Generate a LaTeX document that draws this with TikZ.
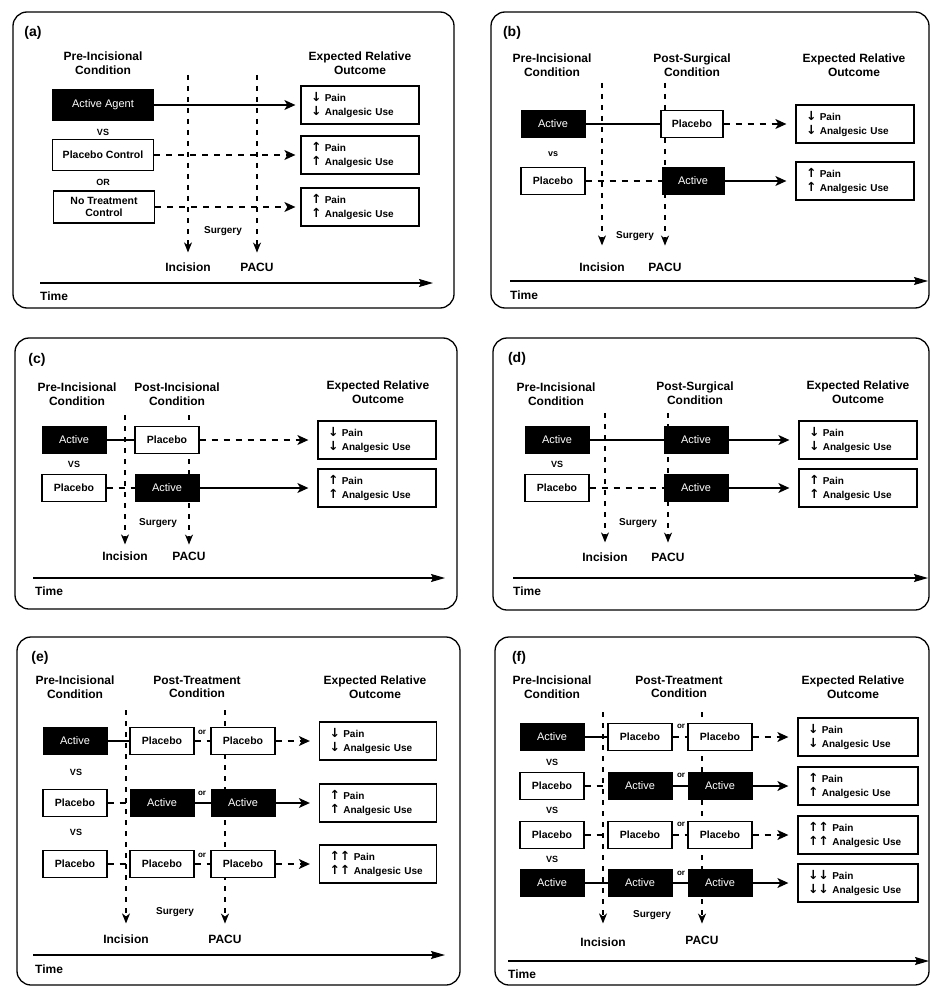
\documentclass[tikz,border=0pt]{standalone}
\usepackage{fontspec}
\setmainfont{Liberation Sans}
\newfontfamily\arrowfont{DejaVu Sans}
\usetikzlibrary{arrows.meta}

\newcommand{\dnarr}{{\arrowfont\bfseries\fontsize{12.5}{12}\selectfont ↓}}
\newcommand{\uparr}{{\arrowfont\bfseries\fontsize{12.5}{12}\selectfont ↑}}

\tikzset{
  panel/.style={line width=1.3pt, rounded corners=14pt},
  head/.style={font=\bfseries\fontsize{12}{13.5}\selectfont, align=center, inner sep=0pt},
  tag/.style={font=\bfseries\fontsize{14}{16}\selectfont, inner sep=0pt},
  axislbl/.style={font=\bfseries\fontsize{12}{14}\selectfont, inner sep=0pt},
  orlbl/.style={font=\bfseries\fontsize{9}{10}\selectfont, inner sep=0pt},
  surglbl/.style={font=\bfseries\fontsize{10}{11}\selectfont, inner sep=0pt},
  act/.style={draw, fill=black, text=white, line width=1pt, font=\fontsize{11}{12}\selectfont,
    minimum width=64pt, minimum height=27pt, inner sep=1pt},
  plac/.style={draw, fill=white, line width=1.3pt, font=\bfseries\fontsize{10.5}{12}\selectfont,
    minimum width=64pt, minimum height=27pt, inner sep=1pt, align=center},
  outc/.style={draw, fill=white, line width=1.3pt, font=\bfseries\fontsize{10}{14.5}\selectfont,
    minimum height=38pt, text width=98pt, inner xsep=10pt, align=left},
  solidc/.style={line width=1.2pt},
  dashc/.style={line width=1.2pt, dash pattern=on 6pt off 6pt},
  outarr/.style={-{Stealth[length=11pt, width=10pt, inset=3pt]}, shorten >=9pt},
  vdash/.style={line width=1.2pt, dash pattern=on 5pt off 6pt,
    -{Stealth[length=10pt, width=8pt, inset=3pt]}, shorten >=10pt},
  timeax/.style={line width=1.3pt, -{Stealth[length=14pt, width=8pt, inset=2pt]}},
}

\begin{document}
\begin{tikzpicture}[x=1pt, y=-1pt]
    \useasboundingbox (0,0) rectangle (931,987);

    %%%%%%%%%% panel (a)
    \draw[panel] (13,12) rectangle (454,308);
    \node[tag] (a-tag) at (33,33) {(a)};
    \node[head] (a-h1) at (103,63) {Pre-Incisional\\Condition};
    \node[head] (a-h3) at (360,63) {Expected Relative\\Outcome};
    % surgery markers
    \node[axislbl] (a-inc) at (188,267) {Incision};
    \node[axislbl] (a-pacu) at (257,267) {PACU};
    \coordinate (a-v1) at (188,75);
    \coordinate (a-v2) at (257,75);
    \draw[vdash] (a-v1) -- (a-inc);
    \draw[vdash] (a-v2) -- (a-pacu);
    \node[surglbl] (a-surg) at (223,231) {Surgery};
    % time axis
    \coordinate (a-t0) at (40,283);
    \coordinate (a-t1) at (433,283);
    \draw[timeax] (a-t0) -- (a-t1);
    \node[axislbl, anchor=west] (a-time) at (40,296) {Time};
    % conditions
    \node[act, minimum width=101pt, minimum height=31pt] (a-pre1) at (103,105) {Active Agent};
    \node[orlbl] (a-vs) at (103,132) {VS};
    \node[plac, minimum width=101pt, minimum height=31pt] (a-pre2) at (103,155) {Placebo Control};
    \node[orlbl] (a-or) at (103,182) {OR};
    \node[plac, minimum width=101pt, minimum height=32pt] (a-pre3) at (104,207) {No Treatment\\Control};
    % outcomes
    \node[outc] (a-out1) at (360,105) {\dnarr\ Pain\\\dnarr\ Analgesic Use};
    \node[outc] (a-out2) at (360,155) {\uparr\ Pain\\\uparr\ Analgesic Use};
    \node[outc] (a-out3) at (360,207) {\uparr\ Pain\\\uparr\ Analgesic Use};
    \draw[solidc, outarr, shorten >=5pt] (a-pre1) -- (a-out1);
    \draw[dashc, outarr, shorten >=5pt] (a-pre2) -- (a-out2);
    \draw[dashc, outarr, shorten >=5pt] (a-pre3) -- (a-out3);

    %%%%%%%%%% panel (b)
    \draw[panel] (491,12) rectangle (929,308);
    \node[tag] (b-tag) at (512,33) {(b)};
    \node[head] (b-h1) at (552,65) {Pre-Incisional\\Condition};
    \node[head] (b-h2) at (692,65) {Post-Surgical\\Condition};
    \node[head] (b-h3) at (854,65) {Expected Relative\\Outcome};
    \node[axislbl] (b-inc) at (602,267) {Incision};
    \node[axislbl] (b-pacu) at (665,267) {PACU};
    \coordinate (b-v1) at (602,83);
    \coordinate (b-v2) at (665,83);
    \draw[vdash, shorten >=17pt] (b-v1) -- (b-inc);
    \draw[vdash, shorten >=17pt] (b-v2) -- (b-pacu);
    \node[surglbl] (b-surg) at (635,236) {Surgery};
    \coordinate (b-t0) at (510,281);
    \coordinate (b-t1) at (928,281);
    \draw[timeax] (b-t0) -- (b-t1);
    \node[axislbl, anchor=west] (b-time) at (510,295) {Time};
    \node[act] (b-pre1) at (553,124) {Active};
    \node[orlbl] (b-vs) at (553,154) {vs};
    \node[plac] (b-pre2) at (553,181) {Placebo};
    \node[plac, minimum width=62pt] (b-post1) at (692,124) {Placebo};
    \node[act, minimum width=62pt] (b-post2) at (693,181) {Active};
    \node[outc] (b-out1) at (855,124) {\dnarr\ Pain\\\dnarr\ Analgesic Use};
    \node[outc] (b-out2) at (855,181) {\uparr\ Pain\\\uparr\ Analgesic Use};
    \draw[solidc] (b-pre1) -- (b-post1);
    \draw[dashc, outarr] (b-post1) -- (b-out1);
    \draw[dashc] (b-pre2) -- (b-post2);
    \draw[solidc, outarr] (b-post2) -- (b-out2);

    %%%%%%%%%% panel (c)
    \draw[panel] (15,338) rectangle (457,609);
    \node[tag] (c-tag) at (37,360) {(c)};
    \node[head] (c-h1) at (77,394) {Pre-Incisional\\Condition};
    \node[head] (c-h2) at (177,394) {Post-Incisional\\Condition};
    \node[head] (c-h3) at (378,392) {Expected Relative\\Outcome};
    \node[axislbl] (c-inc) at (125,556) {Incision};
    \node[axislbl] (c-pacu) at (189,556) {PACU};
    \coordinate (c-v1) at (125,415);
    \coordinate (c-v2) at (189,415);
    \draw[vdash, shorten >=7pt] (c-v1) -- (c-inc);
    \draw[vdash, shorten >=7pt] (c-v2) -- (c-pacu);
    \node[surglbl] (c-surg) at (158,523) {Surgery};
    \coordinate (c-t0) at (33,578);
    \coordinate (c-t1) at (445,578);
    \draw[timeax] (c-t0) -- (c-t1);
    \node[axislbl, anchor=west] (c-time) at (35,591) {Time};
    \node[act] (c-pre1) at (74,440) {Active};
    \node[orlbl] (c-vs) at (74,464) {VS};
    \node[plac] (c-pre2) at (74,488) {Placebo};
    \node[plac] (c-post1) at (167,440) {Placebo};
    \node[act] (c-post2) at (167,488) {Active};
    \node[outc] (c-out1) at (377,440) {\dnarr\ Pain\\\dnarr\ Analgesic Use};
    \node[outc] (c-out2) at (377,488) {\uparr\ Pain\\\uparr\ Analgesic Use};
    \draw[solidc] (c-pre1) -- (c-post1);
    \draw[dashc, outarr] (c-post1) -- (c-out1);
    \draw[dashc] (c-pre2) -- (c-post2);
    \draw[solidc, outarr] (c-post2) -- (c-out2);

    %%%%%%%%%% panel (d)
    \draw[panel] (493,338) rectangle (929,610);
    \node[tag] (d-tag) at (517,359) {(d)};
    \node[head] (d-h1) at (556,394) {Pre-Incisional\\Condition};
    \node[head] (d-h2) at (695,393) {Post-Surgical\\Condition};
    \node[head] (d-h3) at (858,392) {Expected Relative\\Outcome};
    \node[axislbl] (d-inc) at (605,557) {Incision};
    \node[axislbl] (d-pacu) at (668,557) {PACU};
    \coordinate (d-v1) at (605,413);
    \coordinate (d-v2) at (668,413);
    \draw[vdash] (d-v1) -- (d-inc);
    \draw[vdash] (d-v2) -- (d-pacu);
    \node[surglbl] (d-surg) at (638,523) {Surgery};
    \coordinate (d-t0) at (513,578);
    \coordinate (d-t1) at (928,578);
    \draw[timeax] (d-t0) -- (d-t1);
    \node[axislbl, anchor=west] (d-time) at (513,591) {Time};
    \node[act] (d-pre1) at (557,440) {Active};
    \node[orlbl] (d-vs) at (557,464) {VS};
    \node[plac] (d-pre2) at (557,488) {Placebo};
    \node[act] (d-post1) at (696,440) {Active};
    \node[act] (d-post2) at (696,488) {Active};
    \node[outc] (d-out1) at (858,440) {\dnarr\ Pain\\\dnarr\ Analgesic Use};
    \node[outc] (d-out2) at (858,488) {\uparr\ Pain\\\uparr\ Analgesic Use};
    \draw[solidc] (d-pre1) -- (d-post1);
    \draw[solidc, outarr] (d-post1) -- (d-out1);
    \draw[dashc] (d-pre2) -- (d-post2);
    \draw[solidc, outarr] (d-post2) -- (d-out2);

    %%%%%%%%%% panel (e)
    \draw[panel] (17,637) rectangle (460,985);
    \node[tag] (e-tag) at (40,658) {(e)};
    \node[head] (e-h1) at (75,687) {Pre-Incisional\\Condition};
    \node[head] (e-h2) at (197,687) {Post-Treatment\\Condition};
    \node[head] (e-h3) at (375,687) {Expected Relative\\Outcome};
    \node[axislbl] (e-inc) at (126,939) {Incision};
    \node[axislbl] (e-pacu) at (225,939) {PACU};
    \coordinate (e-v1) at (126,710);
    \coordinate (e-v2) at (225,710);
    \draw[vdash, shorten >=11pt] (e-v1) -- (e-inc);
    \draw[vdash, shorten >=11pt] (e-v2) -- (e-pacu);
    \node[surglbl] (e-surg) at (175,912) {Surgery};
    \coordinate (e-t0) at (33,955);
    \coordinate (e-t1) at (445,955);
    \draw[timeax] (e-t0) -- (e-t1);
    \node[axislbl, anchor=west] (e-time) at (35,969) {Time};
    \begin{scope}[every node/.append style={minimum width=57pt, minimum height=26pt}]
    \node[act] (e-pre1) at (75,741) {Active};
    \node[plac] (e-pre2) at (75,803) {Placebo};
    \node[plac] (e-pre3) at (75,864) {Placebo};
    \node[plac] (e-p1a) at (162,741) {Placebo};
    \node[plac] (e-p1b) at (243,741) {Placebo};
    \node[act] (e-p2a) at (162,803) {Active};
    \node[act] (e-p2b) at (243,803) {Active};
    \node[plac] (e-p3a) at (162,864) {Placebo};
    \node[plac] (e-p3b) at (243,864) {Placebo};
    \end{scope}
    \node[orlbl] (e-vs1) at (76,772) {VS};
    \node[orlbl] (e-vs2) at (76,832) {VS};
    \foreach \r/\y in {1/732, 2/793, 3/855}
        \node[orlbl, font=\bfseries\fontsize{8}{9}\selectfont] (e-or\r) at (202,\y) {or};
    \node[outc, text width=97pt] (e-out1) at (378,741) {\dnarr\ Pain\\\dnarr\ Analgesic Use};
    \node[outc, text width=97pt] (e-out2) at (378,803) {\uparr\ Pain\\\uparr\ Analgesic Use};
    \node[outc, text width=97pt] (e-out3) at (378,864) {\uparr\uparr\ Pain\\\uparr\uparr\ Analgesic Use};
    \draw[solidc] (e-pre1) -- (e-p1a);
    \draw[dashc] (e-p1a) -- (e-p1b);
    \draw[dashc, outarr] (e-p1b) -- (e-out1);
    \draw[dashc] (e-pre2) -- (e-p2a);
    \draw[solidc] (e-p2a) -- (e-p2b);
    \draw[solidc, outarr] (e-p2b) -- (e-out2);
    \draw[dashc] (e-pre3) -- (e-p3a);
    \draw[dashc] (e-p3a) -- (e-p3b);
    \draw[dashc, outarr] (e-p3b) -- (e-out3);

    %%%%%%%%%% panel (f)
    \draw[panel] (495,637) rectangle (929,985);
    \node[tag] (f-tag) at (519,658) {(f)};
    \node[head] (f-h1) at (552,687) {Pre-Incisional\\Condition};
    \node[head] (f-h2) at (679,687) {Post-Treatment\\Condition};
    \node[head] (f-h3) at (853,687) {Expected Relative\\Outcome};
    \node[axislbl] (f-inc) at (603,942) {Incision};
    \node[axislbl] (f-pacu) at (702,940) {PACU};
    \coordinate (f-v1) at (603,712);
    \coordinate (f-v2) at (702,712);
    \draw[vdash, shorten >=14pt] (f-v1) -- (f-inc);
    \draw[vdash, shorten >=12pt] (f-v2) -- (f-pacu);
    \node[surglbl] (f-surg) at (652,915) {Surgery};
    \coordinate (f-t0) at (508,961);
    \coordinate (f-t1) at (929,961);
    \draw[timeax] (f-t0) -- (f-t1);
    \node[axislbl, anchor=west] (f-time) at (508,974) {Time};
    \begin{scope}[every node/.append style={minimum width=57pt, minimum height=28pt}]
    \node[act] (f-pre1) at (552,737) {Active};
    \node[plac] (f-pre2) at (552,786) {Placebo};
    \node[plac] (f-pre3) at (552,835) {Placebo};
    \node[act] (f-pre4) at (552,883) {Active};
    \node[plac] (f-p1a) at (640,737) {Placebo};
    \node[plac] (f-p1b) at (720,737) {Placebo};
    \node[act] (f-p2a) at (640,786) {Active};
    \node[act] (f-p2b) at (720,786) {Active};
    \node[plac] (f-p3a) at (640,835) {Placebo};
    \node[plac] (f-p3b) at (720,835) {Placebo};
    \node[act] (f-p4a) at (640,883) {Active};
    \node[act] (f-p4b) at (720,883) {Active};
    \end{scope}
    \foreach \r/\y in {1/762, 2/810, 3/859}
        \node[orlbl] (f-vs\r) at (552,\y) {VS};
    \foreach \r/\y in {1/726, 2/775, 3/824, 4/873}
        \node[orlbl, font=\bfseries\fontsize{8}{9}\selectfont] (f-or\r) at (681,\y) {or};
    \node[outc, text width=100pt] (f-out1) at (858,737) {\dnarr\ Pain\\\dnarr\ Analgesic Use};
    \node[outc, text width=100pt] (f-out2) at (858,786) {\uparr\ Pain\\\uparr\ Analgesic Use};
    \node[outc, text width=100pt] (f-out3) at (858,835) {\uparr\uparr\ Pain\\\uparr\uparr\ Analgesic Use};
    \node[outc, text width=100pt] (f-out4) at (858,883) {\dnarr\dnarr\ Pain\\\dnarr\dnarr\ Analgesic Use};
    \draw[solidc] (f-pre1) -- (f-p1a);
    \draw[dashc] (f-p1a) -- (f-p1b);
    \draw[dashc, outarr] (f-p1b) -- (f-out1);
    \draw[dashc] (f-pre2) -- (f-p2a);
    \draw[solidc] (f-p2a) -- (f-p2b);
    \draw[solidc, outarr] (f-p2b) -- (f-out2);
    \draw[dashc] (f-pre3) -- (f-p3a);
    \draw[dashc] (f-p3a) -- (f-p3b);
    \draw[dashc, outarr] (f-p3b) -- (f-out3);
    \draw[solidc] (f-pre4) -- (f-p4a);
    \draw[solidc] (f-p4a) -- (f-p4b);
    \draw[solidc, outarr] (f-p4b) -- (f-out4);
\end{tikzpicture}
\end{document}
